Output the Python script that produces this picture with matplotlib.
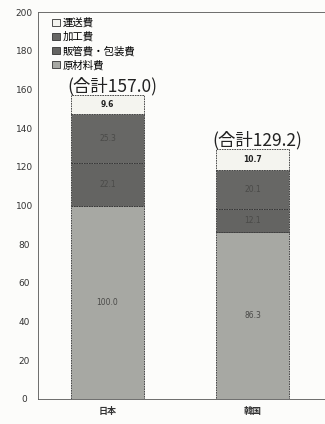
import matplotlib.pyplot as plt
from matplotlib.patches import Patch

plt.rcParams['font.family'] = ['Noto Sans CJK JP', 'DejaVu Sans']

countries = ['日本', '韓国']
genzairyo = [100.0, 86.3]    # 原材料費
hankan = [22.1, 12.1]        # 販管費・包装費
kakou = [25.3, 20.1]         # 加工費
unsou = [9.6, 10.7]          # 運送費
totals = [157.0, 129.2]
yticks = list(range(0, 201, 20))

series = [
    ('原材料費', genzairyo, '#a7a8a3', '#4a4a48'),
    ('販管費・包装費', hankan, '#646462', '#4a4a48'),
    ('加工費', kakou, '#676765', '#4a4a48'),
    ('運送費', unsou, '#f4f4ef', '#222222'),
]

fig = plt.figure(figsize=(3.25, 4.24), dpi=100, facecolor='#fcfcfa')
ax = fig.add_axes([38/325, 25/424, 1 - 38/325, 387/424])
ax.set_facecolor('#fcfcfa')

x = range(len(countries))
bottom = [0, 0]
for name, vals, col, tcol in series:
    ax.bar(x, vals, width=0.5, bottom=bottom, color=col,
           edgecolor='#333333', linewidth=0.6, linestyle=(0, (2, 1)))
    for i, v in enumerate(vals):
        ax.text(i, bottom[i] + v / 2, f'{v:.1f}', ha='center', va='center',
                fontsize=5.5, color=tcol, family='DejaVu Sans',
                fontweight='bold' if name == '運送費' else 'normal')
    bottom = [b + v for b, v in zip(bottom, vals)]

for i, t in enumerate(totals):
    ax.text(i + 0.03, t - 0.4, f'(合計{t:.1f})', ha='center', va='bottom',
            fontsize=12.5, color='#222222')

ax.set_xlim(-0.48, 1.5)
ax.set_ylim(0, 200)
ax.set_yticks(yticks)
ax.set_xticks(list(x))
ax.set_xticklabels(countries, fontsize=6.5, fontweight='bold')
ax.tick_params(length=0, labelsize=6.5, colors='#333333')
ax.tick_params(axis='y', pad=10)
for lbl in ax.get_yticklabels():
    lbl.set_ha('center')
    lbl.set_family('DejaVu Sans')
ax.tick_params(axis='x', pad=6)
for s in ['left', 'top', 'bottom']:
    ax.spines[s].set_linestyle((0, (2, 1)))
    ax.spines[s].set_linewidth(0.6)
    ax.spines[s].set_color('#555555')
ax.spines['right'].set_visible(False)

handles = [Patch(facecolor=c, edgecolor='#333333', linewidth=0.6, label=n)
           for n, v, c, t in series[::-1]]
ax.legend(handles=handles, loc='upper left', bbox_to_anchor=(0.03, 1.0),
          frameon=False, fontsize=7.5, handlelength=0.7, handleheight=0.7,
          handletextpad=0.3, labelspacing=0.36, borderaxespad=0.15)

plt.savefig('out.png', dpi=100, facecolor=fig.get_facecolor())
